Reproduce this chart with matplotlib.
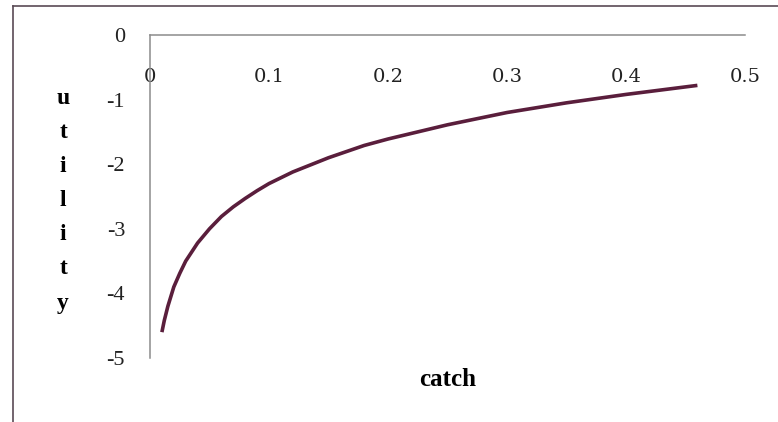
import matplotlib.pyplot as plt
from matplotlib.lines import Line2D

# values
catch = [0.01, 0.012, 0.015, 0.02, 0.025, 0.03, 0.04, 0.05, 0.06, 0.07, 0.08, 0.09,
         0.1, 0.12, 0.15, 0.18, 0.2, 0.25, 0.3, 0.35, 0.4, 0.46]
utility = [-4.6, -4.42, -4.2, -3.9, -3.69, -3.5, -3.22, -3.0, -2.81, -2.66, -2.53, -2.41,
           -2.3, -2.12, -1.9, -1.71, -1.61, -1.39, -1.2, -1.05, -0.92, -0.78]
x_ticks = [0, 0.1, 0.2, 0.3, 0.4, 0.5]
y_ticks = [0, -1, -2, -3, -4, -5]

fig = plt.figure(figsize=(7.78, 4.22), dpi=100)
ax = fig.add_axes([150/778, 1-358/422, 595/778, 323/422])

ax.plot(catch, utility, color='#5a1e3c', linewidth=2.6, solid_capstyle='butt')

ax.set_xlim(0, 0.5)
ax.set_ylim(-5, 0)

ax.spines['bottom'].set_visible(False)
ax.spines['right'].set_visible(False)
for s in ['top', 'left']:
    ax.spines[s].set_color('#8c8c8c')
    ax.spines[s].set_linewidth(1.1)

# x tick labels sit just under the top line
ax.xaxis.tick_top()
ax.set_xticks(x_ticks)
ax.set_xticklabels([f'{v:g}' for v in x_ticks])
ax.tick_params(axis='x', length=0, pad=-37, colors='#222222',
               labelsize=14, labelfontfamily='DejaVu Serif')

ax.set_yticks(y_ticks)
ax.set_yticklabels([str(v) for v in y_ticks])
ax.tick_params(axis='y', length=0, pad=18, colors='#222222',
               labelsize=16, labelfontfamily='Liberation Serif')

ax.set_xlabel('catch', family='Liberation Serif', fontweight='bold', fontsize=18)
ax.xaxis.set_label_position('bottom')
ax.xaxis.set_label_coords(0.5, -0.03)

ax.set_ylabel('\n'.join('utility'), family='Liberation Serif', fontweight='bold',
              fontsize=17, rotation=0, ha='center', va='center', linespacing=1.82)
ax.yaxis.set_label_coords(-0.146, 0.487)

# outer frame (top and left edges only)
fig.add_artist(Line2D([12.5/778, 1], [1-5.5/422, 1-5.5/422], color='#5a4a55', linewidth=1.2))
fig.add_artist(Line2D([12.5/778, 12.5/778], [0, 1-5.5/422], color='#5a4a55', linewidth=1.2))

fig.savefig('out.png', dpi=100)
